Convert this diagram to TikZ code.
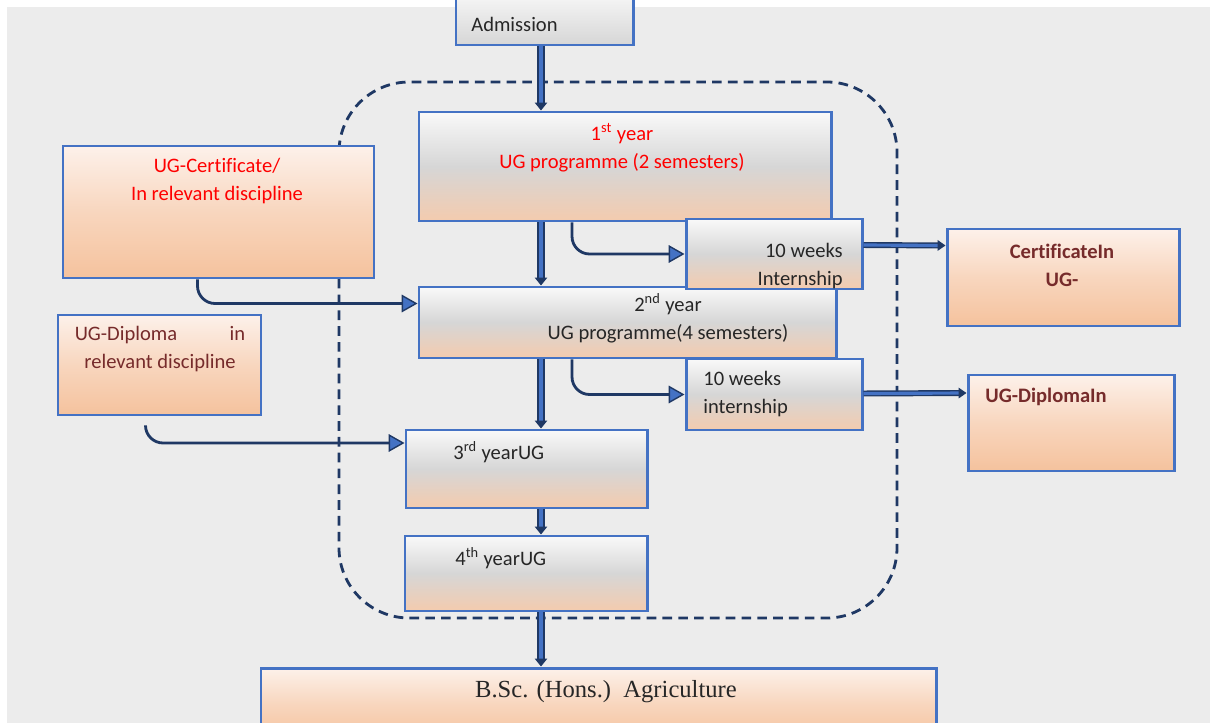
\documentclass[tikz,border=0pt]{standalone}
\usepackage{fontspec}
\setmainfont[Ligatures=NoCommon]{Carlito}
\newfontfamily\timesfont{Liberation Serif}
\usetikzlibrary{arrows.meta,fit,positioning}
\definecolor{ublue}{HTML}{4472C4}
\definecolor{navy}{HTML}{1F3864}
\definecolor{bgc}{HTML}{ECECEC}
\definecolor{gtop}{HTML}{F9F9F9}
\definecolor{gmid}{HTML}{D6D6D6}
\definecolor{gbot}{HTML}{F4CBAE}
\definecolor{ptop}{HTML}{FDF1EA}
\definecolor{pmid}{HTML}{F8D6BE}
\definecolor{pbot}{HTML}{F5C29D}
\definecolor{dred}{HTML}{762B2B}
\definecolor{tdark}{HTML}{262626}
\tikzset{
  box/.style={draw=ublue, line width=1.7pt, inner sep=0pt},
  graybox/.style={box, top color=gtop, bottom color=gbot, middle color=gmid},
  peachbox/.style={box, top color=ptop, bottom color=pbot, middle color=pmid},
  txt/.style={font=\fontsize{11.7}{16}\selectfont, text=tdark, inner sep=0pt},
  frame/.style={draw=navy, line width=1.6pt, dash pattern=on 5.5pt off 3.5pt, rounded corners=40pt},
  spinearrow/.style={draw=navy, double=ublue, double distance=2.8pt, line width=0.9pt, -{Triangle[length=4.5pt,width=7pt]}},
  sidearrow/.style={draw=navy, double=ublue, double distance=1.8pt, line width=0.8pt, -{Triangle[length=4.5pt,width=6pt]}},
  link/.style={draw=navy, line width=1.6pt, rounded corners=10pt, -{Triangle[length=9pt,width=10pt,fill=ublue,line width=0.8pt,sharp]}}
}
\begin{document}
\begin{tikzpicture}[x=0.02cm, y=-0.02cm]
  \useasboundingbox (0,0) rectangle (1210,723);
  \clip (0,0) rectangle (1210,723);
  \fill[white] (0,0) rectangle (1210,723);
  \fill[bgc] (7,7) rectangle (1210,723);

  % the four years
  \draw[frame] (339,82) rectangle (897,618);

  \node[box, top color=gtop, bottom color=gmid, fit={(456,-10) (633,45)}] (adm) {};
  \node[txt, anchor=west] (admt) at (471,24) {Admission};

  \node[graybox, fit={(419,112) (831,221)}] (first) {};
  \node[txt, text=red, align=center] (firstt) at (622,148) {1\textsuperscript{st} year\\UG programme (2 semesters)};

  \node[graybox, fit={(419,287) (836,358)}] (second) {};
  \node[txt, align=center] (secondt) at (668,318) {2\textsuperscript{nd} year\\UG programme(4 semesters)};

  \node[graybox, fit={(686,219) (862,289)}] (intern1) {};
  \node[txt, align=right, anchor=east] (intern1t) at (843,266) {10 weeks\\Internship};

  \node[graybox, fit={(686,359) (862,430)}] (intern2) {};
  \node[txt, align=left, anchor=west] (intern2t) at (703,394) {10 weeks\\internship};

  \node[graybox, fit={(406,430) (647,508)}] (third) {};
  \node[txt, anchor=west] (thirdt) at (453,452) {3\textsuperscript{rd} yearUG};

  \node[graybox, fit={(405,536) (647,611)}] (fourth) {};
  \node[txt, anchor=west] (fourtht) at (455,558) {4\textsuperscript{th} yearUG};

  % exits and entries
  \node[peachbox, fit={(947,229) (1179,326)}] (certif) {};
  \node[txt, text=dred, font=\fontsize{11.7}{16}\selectfont\bfseries, align=center] (certift) at (1062,265) {CertificateIn\\UG-};

  \node[peachbox, fit={(968,375) (1174,471)}] (dipin) {};
  \node[txt, text=dred, font=\fontsize{11.7}{16}\selectfont\bfseries, anchor=west] (dipint) at (985,397) {UG-DiplomaIn};

  \node[peachbox, fit={(63,146) (374,278)}] (ugcert) {};
  \node[txt, text=red, align=center] (ugcertt) at (217,181) {UG-Certificate/\\In relevant discipline};

  \node[peachbox, fit={(58,315) (261,415)}] (ugdip) {};
  \node[txt, text=dred, align=center] (ugdipt) at (160,349) {\makebox[97pt]{UG-Diploma\hfill in}\\relevant discipline};

  \node[peachbox, fit={(261,668) (936,740)}] (bsc) {};
  \node[txt, font=\timesfont\fontsize{14}{16}\selectfont] (bsct) at (606,692) {B.Sc. (Hons.)\ \ Agriculture};

  % connectors
  \coordinate (spine) at (541,0);
  \coordinate (branch) at (572,0);
  \draw[spinearrow] (adm.south -| spine) -- (first.north -| spine);
  \draw[spinearrow] (first.south -| spine) -- (second.north -| spine);
  \draw[spinearrow] (second.south -| spine) -- (third.north -| spine);
  \draw[spinearrow] (third.south -| spine) -- (fourth.north -| spine);
  \draw[spinearrow] (fourth.south -| spine) -- (bsc.north -| spine);

  \draw[link] (first.south -| branch) |- (intern1.west);
  \draw[link] (second.south -| branch) |- (intern2.west);
  \draw[link] ([shift={(-21,0)}]ugcert.south) |- ([shift={(0,-19)}]second.west);
  \draw[link] ([shift={(-14,9)}]ugdip.south) |- ([shift={(0,-26)}]third.west);

  \draw[sidearrow] ([shift={(0,-9)}]intern1.east) -- ([shift={(0,-32)}]certif.west);
  \draw[sidearrow] ([shift={(0,-1)}]intern2.east) -- ([shift={(0,-30)}]dipin.west);
\end{tikzpicture}
\end{document}
